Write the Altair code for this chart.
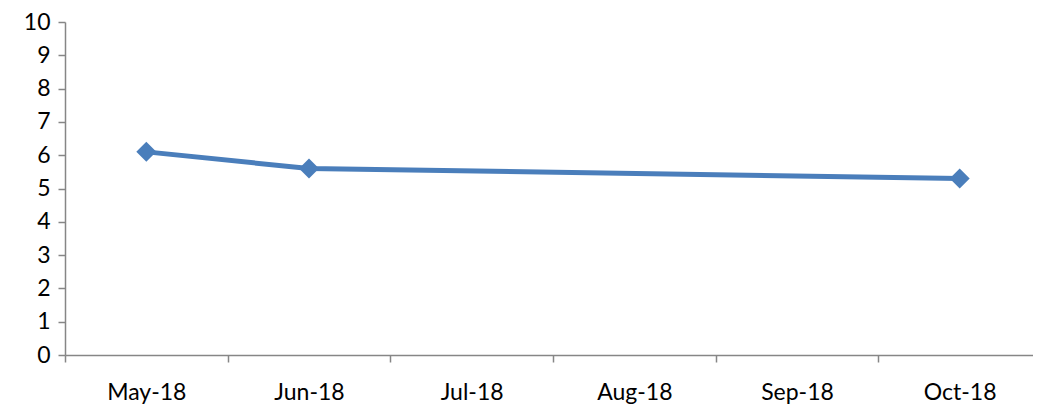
import altair as alt
import pandas as pd

months = ["May-18", "Jun-18", "Jul-18", "Aug-18", "Sep-18", "Oct-18"]
point_months = ["May-18", "Jun-18", "Oct-18"]
point_values = [6.1, 5.6, 5.3]
y_ticks = list(range(0, 11))

df = pd.DataFrame({"month": point_months, "value": point_values})

FONT = "Lato"
AXIS_GRAY = "#868686"
LINE_BLUE = "#4A7EBB"

x = alt.X(
    "month:N",
    scale=alt.Scale(domain=months, paddingInner=0, paddingOuter=0, range=[0, 976]),
    axis=alt.Axis(
        title=None,
        labelAngle=0,
        labelFont=FONT,
        labelFontSize=23,
        labelColor="#000000",
        labelBaseline="alphabetic",
        labelPadding=37,
        tickBand="extent",
        tickSize=7,
        tickColor=AXIS_GRAY,
        domainColor=AXIS_GRAY,
        tickWidth=1.5,
        domainWidth=1.5,
        grid=False,
    ),
)
y = alt.Y(
    "value:Q",
    scale=alt.Scale(domain=[0, 10], nice=False, zero=True),
    axis=alt.Axis(
        title=None,
        values=y_ticks,
        labelFont=FONT,
        labelFontSize=23,
        labelColor="#000000",
        labelPadding=8,
        tickSize=7,
        tickColor=AXIS_GRAY,
        domainColor=AXIS_GRAY,
        tickWidth=1.5,
        domainWidth=1.5,
        grid=False,
    ),
)

line = alt.Chart(df).mark_line(color=LINE_BLUE, strokeWidth=5).encode(x=x, y=y)
points = alt.Chart(df).mark_point(
    shape="diamond", filled=True, size=400, color=LINE_BLUE, opacity=1
).encode(x=x, y=y)

chart = (
    alt.layer(line, points)
    .properties(
        width=968,
        height=333,
        autosize=alt.AutoSizeParams(type="none"),
        padding={"left": 57, "top": 14, "right": 0, "bottom": 49},
    )
    .configure_view(stroke=None)
)

chart.save("out.html", embed_options={"renderer": "svg", "actions": False})
